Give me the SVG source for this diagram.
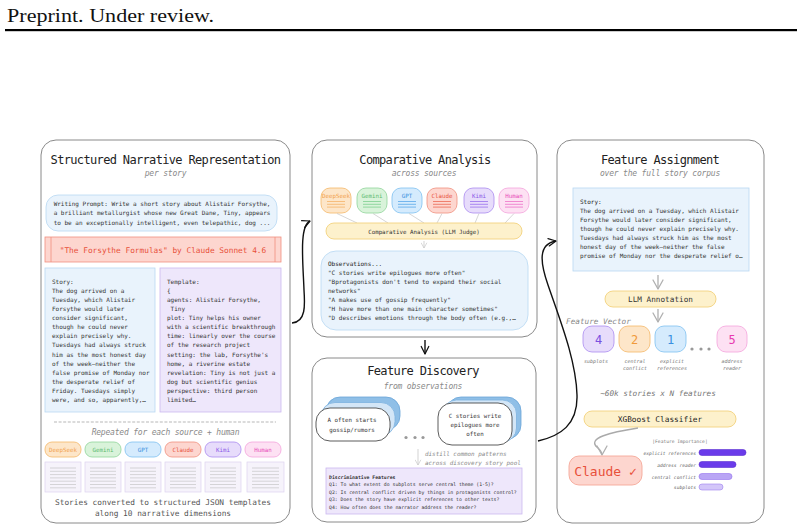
<svg xmlns="http://www.w3.org/2000/svg" width="804" height="530" viewBox="0 0 804 530">
<defs>
<marker id="ahk" viewBox="0 0 12 12" refX="11" refY="6" markerWidth="10" markerHeight="10" orient="auto" markerUnits="userSpaceOnUse"><path d="M2,1.5 L11,6 L2,10.5" fill="none" stroke="#111" stroke-width="1.5" stroke-linecap="round" stroke-linejoin="round"/></marker>
<marker id="ahg" viewBox="0 0 12 12" refX="11" refY="6" markerWidth="12" markerHeight="12" orient="auto" markerUnits="userSpaceOnUse"><path d="M2,1 L11,6 L2,11" fill="none" stroke="#b0b0b0" stroke-width="1.3" stroke-linecap="round" stroke-linejoin="round"/></marker>
<marker id="ahl" viewBox="0 0 12 12" refX="11" refY="6" markerWidth="7" markerHeight="7" orient="auto" markerUnits="userSpaceOnUse"><path d="M2,1 L11,6 L2,11" fill="none" stroke="#c8c8c8" stroke-width="1.2"/></marker>
</defs>
<style>
text{font-family:"DejaVu Sans Mono","Liberation Mono",monospace}
.panel{fill:#fff;stroke:#8a8a8a;stroke-width:1}
.title{font-size:12px;fill:#222;text-anchor:middle;letter-spacing:-0.66px}
.sub{font-size:8px;font-style:italic;fill:#8a8a8a;text-anchor:middle;letter-spacing:-0.2px}
.body{font-size:6px;fill:#333}
.mid{text-anchor:middle}
.blue{fill:#e9f3fc;stroke:#b8d8f2;stroke-width:0.8}
.purp{fill:#eee7fb;stroke:#cbb8ef;stroke-width:0.8}
.yel{fill:#fdf1cc;stroke:#f3d37f;stroke-width:0.9}
.o{fill:#fde6c9;stroke:#f4b868;stroke-width:0.8}
.g{fill:#d9f3da;stroke:#91d49b;stroke-width:0.8}
.b{fill:#d5ebfd;stroke:#7fc0f0;stroke-width:0.8}
.r{fill:#fdd6cf;stroke:#f0907f;stroke-width:0.8}
.p{fill:#e7dcfb;stroke:#ab8cf0;stroke-width:0.8}
.h{fill:#fde1f3;stroke:#f4a3dc;stroke-width:0.8}
.to{fill:#f2a14d}.tg{fill:#5cba6f}.tb{fill:#3a90dd}.tr{fill:#e8503a}.tp{fill:#8a5ae8}.th{fill:#e84ab8}
.lo{stroke:#f5b46a}.lg{stroke:#7fcf8f}.lb{stroke:#5aa8ea}.lr{stroke:#ec6a55}.lp{stroke:#9a70ee}.lh{stroke:#ee72c8}
.ic line{stroke-width:0.8}
.doc{fill:#f6f3fb;stroke:#dcd2ef;stroke-width:0.7}
.dl{stroke:#bdbdbd;stroke-width:0.6}
.card0{fill:#8fbfe7;stroke:#6aa5d8;stroke-width:0.8}
.card1{fill:#d3e6f7;stroke:#7db3e0;stroke-width:0.8}
.card2{fill:#fff;stroke:#333;stroke-width:0.8}
.ctext{font-size:5.8px;fill:#333;text-anchor:middle}
.small{font-size:5px;fill:#777;font-style:italic;text-anchor:middle}
.imp{font-size:4.6px;fill:#666;font-style:italic;text-anchor:end}
</style>

<rect width="804" height="530" fill="#fff"/>
<g id="header">
<text x="7" y="22" style="font-family:'Liberation Serif','DejaVu Serif',serif" font-size="19" fill="#111" textLength="207" lengthAdjust="spacingAndGlyphs">Preprint. Under review.</text>
<rect x="5" y="29" width="792" height="2.2" fill="#000"/>
</g>

<!-- LEFT PANEL -->
<g id="structured-narrative">
<rect class="panel" x="41" y="140" width="249" height="383" rx="15"/>
<text class="title" x="165.5" y="164">Structured Narrative Representation</text>
<text class="sub" x="165.5" y="176">per story</text>
<g id="writing-prompt">
<rect class="blue" x="46" y="195" width="231" height="36" rx="12"/>
<text class="body mid" x="162" y="205.5">Writing Prompt: Write a short story about Alistair Forsythe,</text>
<text class="body mid" x="162" y="215">a brilliant metallurgist whose new Great Dane, Tiny, appears</text>
<text class="body mid" x="162" y="224.5">to be an exceptionally intelligent, even telepathic, dog ...</text>
</g>
<g id="story-title">
<rect x="45" y="237" width="236" height="25" fill="#fdd6cf" stroke="#f0907f" stroke-width="0.8"/>
<line x1="51" y1="237" x2="51" y2="262" stroke="#f0907f" stroke-width="0.8"/>
<line x1="275" y1="237" x2="275" y2="262" stroke="#f0907f" stroke-width="0.8"/>
<text x="163" y="252.8" font-size="7.8" fill="#e8503a" text-anchor="middle">"The Forsythe Formulas" by Claude Sonnet 4.6</text>
</g>
<g id="story-box">
<rect class="blue" x="45" y="268" width="110" height="144"/>
<text class="body" x="52" y="283.7"><tspan x="52">Story:</tspan><tspan x="52" dy="9.1">The dog arrived on a</tspan><tspan x="52" dy="9.1">Tuesday, which Alistair</tspan><tspan x="52" dy="9.1">Forsythe would later</tspan><tspan x="52" dy="9.1">consider significant,</tspan><tspan x="52" dy="9.1">though he could never</tspan><tspan x="52" dy="9.1">explain precisely why.</tspan><tspan x="52" dy="9.1">Tuesdays had always struck</tspan><tspan x="52" dy="9.1">him as the most honest day</tspan><tspan x="52" dy="9.1">of the week—neither the</tspan><tspan x="52" dy="9.1">false promise of Monday nor</tspan><tspan x="52" dy="9.1">the desperate relief of</tspan><tspan x="52" dy="9.1">Friday. Tuesdays simply</tspan><tspan x="52" dy="9.1">were, and so, apparently,…</tspan></text>
</g>
<g id="template-box">
<rect class="purp" x="160" y="268" width="121" height="144"/>
<text class="body" x="167" y="283.7"><tspan x="167">Template:</tspan><tspan x="167" dy="9.1">{</tspan><tspan x="167" dy="9.1">agents: Alistair Forsythe,</tspan><tspan x="167" dy="9.1"> Tiny</tspan><tspan x="167" dy="9.1">plot: Tiny helps his owner</tspan><tspan x="167" dy="9.1">with a scientific breakthrough</tspan><tspan x="167" dy="9.1">time: linearly over the course</tspan><tspan x="167" dy="9.1">of the research project</tspan><tspan x="167" dy="9.1">setting: the lab, Forsythe's</tspan><tspan x="167" dy="9.1">home, a riverine estate</tspan><tspan x="167" dy="9.1">revelation: Tiny is not just a</tspan><tspan x="167" dy="9.1">dog but scientific genius</tspan><tspan x="167" dy="9.1">perspective: third person</tspan><tspan x="167" dy="9.1">limited…</tspan></text>
</g>
<line x1="54" y1="422" x2="276" y2="422" stroke="#999" stroke-width="0.7" stroke-dasharray="3,1.6"/>
<text class="sub" x="165.5" y="435" font-size="7.6">Repeated for each source + human</text>
<g id="source-pills" font-size="5.8">
<rect class="o" x="45" y="442" width="36" height="15" rx="7"/><text class="to mid" x="63" y="451.5" font-size="5.8">DeepSeek</text>
<rect class="g" x="85" y="442" width="36" height="15" rx="7"/><text class="tg mid" x="103" y="451.5" font-size="5.8">Gemini</text>
<rect class="b" x="125" y="442" width="36" height="15" rx="7"/><text class="tb mid" x="143" y="451.5" font-size="5.8">GPT</text>
<rect class="r" x="165" y="442" width="36" height="15" rx="7"/><text class="tr mid" x="183" y="451.5" font-size="5.8">Claude</text>
<rect class="p" x="205" y="442" width="36" height="15" rx="7"/><text class="tp mid" x="223" y="451.5" font-size="5.8">Kimi</text>
<rect class="h" x="245" y="442" width="36" height="15" rx="7"/><text class="th mid" x="263" y="451.5" font-size="5.8">Human</text>
</g>
<g id="docs">
<rect class="doc" x="45" y="462" width="36" height="30"/>
<rect class="doc" x="85" y="462" width="36" height="30"/>
<rect class="doc" x="125" y="462" width="36" height="30"/>
<rect class="doc" x="165" y="462" width="36" height="30"/>
<rect class="doc" x="205" y="462" width="36" height="30"/>
<rect class="doc" x="247" y="462" width="37" height="30"/>
<g class="dl">
<path d="M50 468h26M50 471.3h26M50 474.6h26M50 477.9h26M50 481.2h26M50 484.5h26M50 487.8h26"/>
<path d="M90 468h26M90 471.3h26M90 474.6h26M90 477.9h26M90 481.2h26M90 484.5h26M90 487.8h26"/>
<path d="M130 468h26M130 471.3h26M130 474.6h26M130 477.9h26M130 481.2h26M130 484.5h26M130 487.8h26"/>
<path d="M170 468h26M170 471.3h26M170 474.6h26M170 477.9h26M170 481.2h26M170 484.5h26M170 487.8h26"/>
<path d="M210 468h26M210 471.3h26M210 474.6h26M210 477.9h26M210 481.2h26M210 484.5h26M210 487.8h26"/>
<path d="M252 468h27M252 471.3h27M252 474.6h27M252 477.9h27M252 481.2h27M252 484.5h27M252 487.8h27"/>
</g>
</g>
<text class="mid" x="163" y="504.5" font-size="7.8" fill="#555">Stories converted to structured JSON templates</text>
<text class="mid" x="163" y="515.5" font-size="7.8" fill="#555">along 10 narrative dimensions</text>
</g>

<!-- MIDDLE TOP -->
<g id="comparative-analysis">
<rect class="panel" x="312" y="140" width="225" height="197" rx="15"/>
<text class="title" x="425" y="164">Comparative Analysis</text>
<text class="sub" x="424" y="176">across sources</text>
<g id="model-icons" class="ic">
<rect class="o" x="321" y="188" width="30" height="25" rx="9"/><text class="to mid" x="336" y="198" font-size="5.8">DeepSeek</text><path class="lo" d="M327 201.5h18M327 204.3h18M327 207.1h18" stroke-width="0.8"/>
<rect class="g" x="357" y="188" width="30" height="25" rx="9"/><text class="tg mid" x="372" y="198" font-size="5.8">Gemini</text><path class="lg" d="M363 201.5h18M363 204.3h18M363 207.1h18" stroke-width="0.8"/>
<rect class="b" x="392" y="188" width="30" height="25" rx="9"/><text class="tb mid" x="407" y="198" font-size="5.8">GPT</text><path class="lb" d="M398 201.5h18M398 204.3h18M398 207.1h18" stroke-width="0.8"/>
<rect class="r" x="427" y="188" width="30" height="25" rx="9"/><text class="tr mid" x="442" y="198" font-size="5.8">Claude</text><path class="lr" d="M433 201.5h18M433 204.3h18M433 207.1h18" stroke-width="0.8"/>
<rect class="p" x="464" y="188" width="30" height="25" rx="9"/><text class="tp mid" x="479" y="198" font-size="5.8">Kimi</text><path class="lp" d="M470 201.5h18M470 204.3h18M470 207.1h18" stroke-width="0.8"/>
<rect class="h" x="499" y="188" width="30" height="25" rx="9"/><text class="th mid" x="514" y="198" font-size="5.8">Human</text><path class="lh" d="M505 201.5h18M505 204.3h18M505 207.1h18" stroke-width="0.8"/>
</g>
<g stroke="#c4c4c4" stroke-width="0.7">
<line x1="337" y1="213.5" x2="357" y2="223"/>
<line x1="373" y1="213.5" x2="388" y2="223"/>
<line x1="409" y1="213.5" x2="424" y2="223"/>
<line x1="442" y1="213.5" x2="437" y2="223"/>
<line x1="479" y1="213.5" x2="475" y2="223"/>
<line x1="514" y1="213.5" x2="505" y2="223"/>
</g>
<g id="llm-judge">
<rect class="yel" x="326" y="223" width="196" height="16" rx="8"/>
<text class="mid" x="424" y="233.5" font-size="5.8" fill="#333">Comparative Analysis (LLM Judge)</text>
</g>
<line x1="424" y1="241" x2="424" y2="248" stroke="#c8c8c8" stroke-width="0.8" marker-end="url(#ahl)"/>
<g id="observations">
<rect class="blue" x="321" y="251" width="207" height="79" rx="15"/>
<text class="body" x="328" y="266"><tspan x="328" fill="#222">Observations...</tspan><tspan x="328" dy="9">"C stories write epilogues more often"</tspan><tspan x="328" dy="9">"Bprotagonists don't tend to expand their social</tspan><tspan x="328" dy="9">networks"</tspan><tspan x="328" dy="9">"A makes use of gossip frequently"</tspan><tspan x="328" dy="9">"H have more than one main character sometimes"</tspan><tspan x="328" dy="9">"D describes emotions through the body often (e.g.,…</tspan></text>
</g>
</g>

<!-- MIDDLE BOTTOM -->
<g id="feature-discovery">
<rect class="panel" x="312" y="358" width="224" height="164" rx="15"/>
<text class="title" x="423" y="375">Feature Discovery</text>
<text class="sub" x="423" y="389">from observations</text>
<g id="card-a">
<rect class="card0" x="326" y="397" width="74" height="33" rx="14"/>
<rect class="card1" x="321" y="402.5" width="74" height="33" rx="14"/>
<rect class="card2" x="316" y="408" width="74" height="33" rx="14"/>
<text class="ctext" x="352" y="422">A often starts</text>
<text class="ctext" x="352" y="431.5">gossip/rumors</text>
</g>
<g fill="#999"><circle cx="406" cy="437.5" r="1.6"/><circle cx="415" cy="437.5" r="1.6"/><circle cx="423" cy="437.5" r="1.6"/></g>
<g id="card-c">
<rect class="card0" x="447" y="397" width="74" height="42" rx="14"/>
<rect class="card1" x="442.5" y="400" width="74" height="42" rx="14"/>
<rect class="card2" x="438" y="403" width="74" height="42" rx="14"/>
<text class="ctext" x="475" y="418">C stories write</text>
<text class="ctext" x="475" y="427">epilogues more</text>
<text class="ctext" x="475" y="436">often</text>
</g>
<line x1="418" y1="449" x2="418" y2="465" stroke="#c8c8c8" stroke-width="0.8" marker-end="url(#ahl)"/>
<text x="425" y="456" font-size="5.9" font-style="italic" fill="#888">distill common patterns</text>
<text x="425" y="465" font-size="5.9" font-style="italic" fill="#888">across discovery story pool</text>
<g id="discriminative-features">
<rect class="purp" x="326" y="468" width="196" height="46"/>
<text x="329" y="478.5" font-size="4.8" font-weight="bold" fill="#333">Discriminative Features</text>
<text x="329" y="486" font-size="4.8" fill="#333">Q1: To what extent do subplots serve central theme (1-5)?</text>
<text x="329" y="493.5" font-size="4.8" fill="#333">Q2: Is central conflict driven by things in protagonists control?</text>
<text x="329" y="501" font-size="4.8" fill="#333">Q3: Does the story have explicit references to other texts?</text>
<text x="329" y="508.5" font-size="4.8" fill="#333">Q4: How often does the narrator address the reader?</text>
</g>
</g>

<!-- RIGHT PANEL -->
<g id="feature-assignment">
<rect class="panel" x="557" y="140" width="207" height="383" rx="15"/>
<text class="title" x="660" y="164">Feature Assignment</text>
<text class="sub" x="660" y="176">over the full story corpus</text>
<g id="corpus-story">
<rect class="blue" x="573" y="188" width="176" height="83"/>
<text class="body" x="580" y="204.3"><tspan x="580" fill="#222">Story:</tspan><tspan x="580" dy="9">The dog arrived on a Tuesday, which Alistair</tspan><tspan x="580" dy="9">Forsythe would later consider significant,</tspan><tspan x="580" dy="9">though he could never explain precisely why.</tspan><tspan x="580" dy="9">Tuesdays had always struck him as the most</tspan><tspan x="580" dy="9">honest day of the week—neither the false</tspan><tspan x="580" dy="9">promise of Monday nor the desperate relief o…</tspan></text>
</g>
<line x1="658" y1="275" x2="658" y2="289" stroke="#b0b0b0" stroke-width="1.3" marker-end="url(#ahg)"/>
<g id="llm-annotation">
<rect class="yel" x="605" y="291" width="111" height="16" rx="8"/>
<text class="mid" x="660.5" y="302" font-size="7.7" fill="#333">LLM Annotation</text>
</g>
<line x1="658" y1="309" x2="658" y2="322" stroke="#b0b0b0" stroke-width="1.3" marker-end="url(#ahg)"/>
<text x="566" y="324" font-size="7.7" font-style="italic" fill="#888">Feature Vector</text>
<g id="feature-vector">
<rect class="p" x="583" y="326" width="31" height="26" rx="9" stroke="#c4a8f5"/><text x="598.5" y="343.5" font-size="12" fill="#7a4fe0" text-anchor="middle">4</text>
<rect class="o" x="619" y="326" width="31" height="26" rx="9" stroke="#f8c27a"/><text x="634.5" y="343.5" font-size="12" fill="#f09a3a" text-anchor="middle">2</text>
<rect class="b" x="655" y="326" width="31" height="26" rx="9" stroke="#8ccaf5"/><text x="670.5" y="343.5" font-size="12" fill="#3a8fe0" text-anchor="middle">1</text>
<rect class="h" x="717" y="326" width="30" height="26" rx="9" stroke="#f5b0e0"/><text x="732" y="343.5" font-size="12" fill="#e83ab0" text-anchor="middle">5</text>
<g fill="#999"><circle cx="692" cy="349" r="1.6"/><circle cx="701" cy="349" r="1.6"/><circle cx="709" cy="349" r="1.6"/></g>
<text class="small" x="596" y="362.5">subplots</text>
<text class="small" x="635" y="362.5">central</text><text class="small" x="635" y="370">conflict</text>
<text class="small" x="672" y="362.5">explicit</text><text class="small" x="672" y="370">references</text>
<text class="small" x="732" y="362.5">address</text><text class="small" x="732" y="370">reader</text>
</g>
<text x="658" y="396" font-size="7.7" font-style="italic" fill="#777" text-anchor="middle">~60k stories x N features</text>
<g id="xgboost">
<rect class="yel" x="584" y="411" width="152" height="16" rx="8"/>
<text class="mid" x="660" y="422" font-size="7.8" fill="#222">XGBoost Classifier</text>
</g>
<path d="M638 428 C612 432 585 438 598 448 C601 451 602 453 602 455" fill="none" stroke="#aaa" stroke-width="1.4" marker-end="url(#ahg)"/>
<g id="claude-result">
<rect x="569" y="456" width="73" height="29" rx="10" fill="#fdd6cf" stroke="#f5a898" stroke-width="0.9"/>
<text x="605.5" y="475.5" font-size="13" fill="#e8503a" text-anchor="middle">Claude ✓</text>
</g>
<g id="feature-importance">
<text x="680" y="443" font-size="4.6" fill="#777" text-anchor="middle">|Feature Importance|</text>
<text class="imp" x="696" y="454.5">explicit references</text>
<rect x="699" y="449.5" width="47" height="6" rx="3" fill="#6a3bea" stroke="#5a2fd0" stroke-width="0.6"/>
<text class="imp" x="696" y="466.5">address reader</text>
<rect x="699" y="461.5" width="37" height="6" rx="3" fill="#6a3bea" stroke="#5a2fd0" stroke-width="0.6"/>
<text class="imp" x="696" y="478.5">central conflict</text>
<rect x="699" y="473.5" width="33" height="6" rx="3" fill="#b9a5f5" stroke="#9370ee" stroke-width="0.6"/>
<text class="imp" x="696" y="489">subplots</text>
<rect x="699" y="484" width="24" height="6" rx="3" fill="#d3c6f9" stroke="#9d80ee" stroke-width="0.6"/>
</g>
</g>

<g id="connectors" fill="none" stroke="#111" stroke-width="1.4">
<path d="M292 323 C306 322 305 305 304 290 C303 262 299 226 310 221" marker-end="url(#ahk)"/>
<line x1="425" y1="340" x2="425" y2="354" marker-end="url(#ahk)"/>
<path d="M538 441 C560 436 578 425 577 395 C576 360 560 320 548 285 C540 262 538 244 556 241" marker-end="url(#ahk)"/>
</g>
</svg>
